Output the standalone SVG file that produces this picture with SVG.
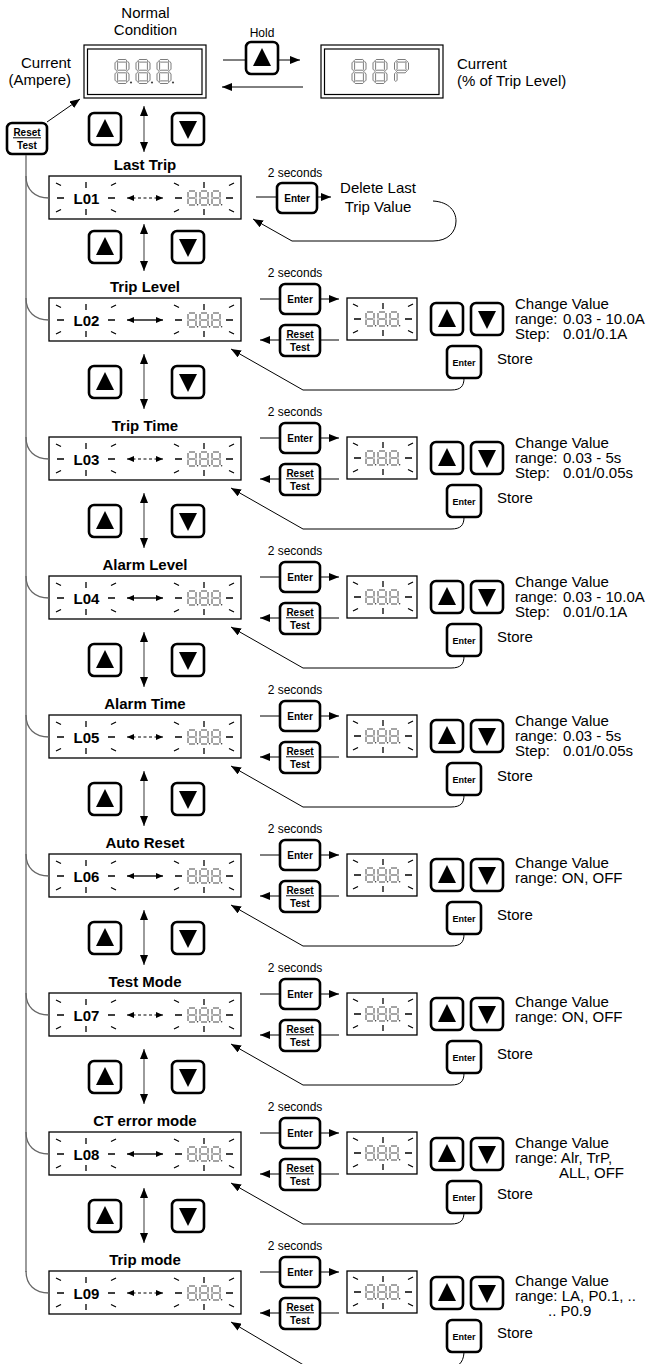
<svg xmlns="http://www.w3.org/2000/svg" width="651" height="1364" viewBox="0 0 651 1364">
<style>
text{font-family:"Liberation Sans",Arial,Helvetica,sans-serif;fill:#000}
.t15{font-size:15px}
.t12{font-size:12px}
.b15{font-size:15px;font-weight:bold}
.mid{text-anchor:middle}
.bt{font-size:10px;font-weight:bold;text-anchor:middle}
.bt9{font-size:9px;font-weight:bold;text-anchor:middle}
.btn{fill:#fff;stroke:#000;stroke-width:2.6}
.disp{fill:#fff;stroke:#000;stroke-width:1.3}
.tick{stroke:#000;stroke-width:1.3;fill:none}
.seg{fill:none;stroke:#444;stroke-width:0.7}
.segs{fill:none;stroke:#333;stroke-width:0.9}
.ln{fill:none;stroke:#000;stroke-width:1}
.bus{fill:none;stroke:#666;stroke-width:1.3}
.vline{fill:none;stroke:#666;stroke-width:1.3}
.dash{fill:none;stroke:#000;stroke-width:1;stroke-dasharray:3 2.5}
.sol{fill:none;stroke:#555;stroke-width:2}
</style>
<defs>
<marker id="ah" markerUnits="userSpaceOnUse" markerWidth="10" markerHeight="8" refX="10" refY="4" orient="auto"><path d="M0,0 L10,4 L0,8 z" fill="#000"/></marker>
<marker id="sa" markerUnits="userSpaceOnUse" markerWidth="7" markerHeight="6" refX="7" refY="3" orient="auto-start-reverse"><path d="M0,0 L7,3 L0,6 z" fill="#000"/></marker>
<marker id="va" markerUnits="userSpaceOnUse" markerWidth="10" markerHeight="8" refX="10" refY="4" orient="auto-start-reverse"><path d="M0,0 L10,4 L0,8 z" fill="#000"/></marker>
<g id="blink" class="tick">
<path d="M-29,0 H-22 M22,0 H29 M0,-16 V-10 M0,11 V17 M-30,-15 L-25,-12.5 M25,-12.5 L30,-15 M-30,14 L-25,11.5 M25,11.5 L30,14"/>
</g>
<g id="d8s">
<path class="segs" d="M1,0 H7 M8,1 V6.5 M8,7.5 V13 M1,14 H7 M0,7.5 V13 M0,1 V6.5 M1,7 H7"/>
<circle cx="9.6" cy="13.8" r="0.8" fill="#333"/>
</g>
<g id="d8b">
<polygon class="seg" points="2,1.3 3.3,0 10.7,0 12,1.3 10.7,2.6 3.3,2.6"/>
<polygon class="seg" points="2,12 3.3,10.7 10.7,10.7 12,12 10.7,13.3 3.3,13.3"/>
<polygon class="seg" points="2,22.7 3.3,21.4 10.7,21.4 12,22.7 10.7,24 3.3,24"/>
<polygon class="seg" points="1.3,2 2.6,3.3 2.6,9.7 1.3,11 0,9.7 0,3.3"/>
<polygon class="seg" points="1.3,13 2.6,14.3 2.6,20.7 1.3,22 0,20.7 0,14.3"/>
<polygon class="seg" points="12.7,2 14,3.3 14,9.7 12.7,11 11.4,9.7 11.4,3.3"/>
<polygon class="seg" points="12.7,13 14,14.3 14,20.7 12.7,22 11.4,20.7 11.4,14.3"/>
</g>
<g id="dPb">
<polygon class="seg" points="2,1.3 3.3,0 10.7,0 12,1.3 10.7,2.6 3.3,2.6"/>
<polygon class="seg" points="2,12 3.3,10.7 10.7,10.7 12,12 10.7,13.3 3.3,13.3"/>
<polygon class="seg" points="1.3,2 2.6,3.3 2.6,9.7 1.3,11 0,9.7 0,3.3"/>
<polygon class="seg" points="1.3,13 2.6,14.3 2.6,20.7 1.3,22 0,20.7 0,14.3"/>
<polygon class="seg" points="12.7,2 14,3.3 14,9.7 12.7,11 11.4,9.7 11.4,3.3"/>
</g>
<g id="s888"><use href="#d8s" x="0"/><use href="#d8s" x="12"/><use href="#d8s" x="24"/></g>
<g id="up"><rect x="0" y="0" width="32" height="32" rx="5" class="btn"/><path d="M7,24 H25 L16,6 z" fill="#000"/></g>
<g id="down"><rect x="0" y="0" width="32" height="32" rx="5" class="btn"/><path d="M7,8 H25 L16,26 z" fill="#000"/></g>
<g id="bEnter"><rect x="0" y="0" width="40" height="30" rx="5" class="btn"/><text x="20" y="19" class="bt">Enter</text></g>
<g id="bReset"><rect x="0" y="0" width="40" height="31" rx="5" class="btn"/><text x="20" y="12.5" class="bt">Reset</text><line x1="6" y1="14.8" x2="34" y2="14.8" stroke="#000" stroke-width="1"/><text x="20" y="26" class="bt">Test</text></g>
<g id="bStore"><rect x="0" y="0" width="34" height="32" rx="5" class="btn"/><text x="17" y="20" class="bt9">Enter</text></g>
<g id="smalldisp"><rect x="0" y="0" width="70" height="42" class="disp"/><use href="#blink" x="36" y="21"/><use href="#s888" x="19" y="14"/></g>
<g id="maindisp"><rect x="0" y="0" width="192" height="43" class="disp"/><use href="#blink" x="37" y="22"/><use href="#blink" x="155" y="22"/><use href="#s888" x="139" y="15"/></g>
</defs>

<!-- top nodes -->
<g id="normal-display">
<text x="145.5" y="18" class="t15 mid">Normal</text>
<text x="145.5" y="35" class="t15 mid">Condition</text>
<rect x="84" y="45" width="122" height="53" fill="#fff" stroke="#000" stroke-width="1.2"/>
<rect x="87.5" y="49" width="114.5" height="45.5" fill="none" stroke="#000" stroke-width="1.2"/>
<use href="#d8b" x="115" y="59.5"/><circle cx="131" cy="82.5" r="1.1" fill="#444"/>
<use href="#d8b" x="136" y="59.5"/><circle cx="152" cy="82.5" r="1.1" fill="#444"/>
<use href="#d8b" x="157" y="59.5"/><circle cx="173" cy="82.5" r="1.1" fill="#444"/>
<text x="71" y="68" class="t15" text-anchor="end">Current</text>
<text x="71" y="85" class="t15" text-anchor="end">(Ampere)</text>
</g>
<g id="hold-button">
<text x="262" y="37" class="t12 mid">Hold</text>
<use href="#up" x="246" y="42"/>
</g>
<g id="percent-display">
<rect x="321" y="45" width="122" height="53" fill="#fff" stroke="#000" stroke-width="1.2"/>
<rect x="324.5" y="49" width="114.5" height="45.5" fill="none" stroke="#000" stroke-width="1.2"/>
<use href="#d8b" x="352" y="59.5"/>
<use href="#d8b" x="373" y="59.5"/>
<use href="#dPb" x="394.5" y="59.5"/>
<text x="457" y="69" class="t15">Current</text>
<text x="457" y="86" class="t15">(% of Trip Level)</text>
</g>
<g id="reset-top"><use href="#bReset" x="7" y="123"/></g>
<g id="nav-top"><use href="#up" x="89" y="113"/><use href="#down" x="172" y="113"/></g>

<!-- L01 -->
<g id="row-L01" transform="translate(0,176)">
<text x="145" y="-6" class="b15 mid">Last Trip</text>
<use href="#maindisp" x="49" y="0"/>
<text x="86.5" y="28" class="b15 mid">L01</text>
<text x="295" y="1" class="t12 mid">2 seconds</text>
<use href="#bEnter" x="277" y="7"/>
<text x="378" y="17" class="t15 mid">Delete Last</text>
<text x="378" y="35.5" class="t15 mid">Trip Value</text>
<use href="#up" x="89" y="55"/><use href="#down" x="172" y="55"/>
</g>

<g id="row-L02" transform="translate(0,298)">
<text x="145" y="-6" class="b15 mid">Trip Level</text>
<use href="#maindisp" x="49" y="0"/>
<text x="86.5" y="27.5" class="b15 mid">L02</text>
<text x="295" y="-21.5" class="t12 mid">2 seconds</text>
<use href="#bEnter" x="280" y="-14"/><use href="#bReset" x="280" y="27"/>
<use href="#smalldisp" x="347" y="0"/>
<use href="#up" x="431" y="5"/><use href="#down" x="471" y="5"/>
<text x="515" y="11" class="t15">Change Value</text>
<text x="515" y="26" class="t15">range: <tspan x="563">0.03 - 10.0A</tspan></text>
<text x="515" y="41" class="t15">Step: <tspan x="563">0.01/0.1A</tspan></text>
<use href="#bStore" x="447" y="48"/><text x="497" y="66" class="t15">Store</text>
<use href="#up" x="89" y="68"/><use href="#down" x="172" y="68"/>
</g>

<g id="row-L03" transform="translate(0,437)">
<text x="145" y="-6" class="b15 mid">Trip Time</text>
<use href="#maindisp" x="49" y="0"/>
<text x="86.5" y="27.5" class="b15 mid">L03</text>
<text x="295" y="-21.5" class="t12 mid">2 seconds</text>
<use href="#bEnter" x="280" y="-14"/><use href="#bReset" x="280" y="27"/>
<use href="#smalldisp" x="347" y="0"/>
<use href="#up" x="431" y="5"/><use href="#down" x="471" y="5"/>
<text x="515" y="11" class="t15">Change Value</text>
<text x="515" y="26" class="t15">range: <tspan x="563">0.03 - 5s</tspan></text>
<text x="515" y="41" class="t15">Step: <tspan x="563">0.01/0.05s</tspan></text>
<use href="#bStore" x="447" y="48"/><text x="497" y="66" class="t15">Store</text>
<use href="#up" x="89" y="68"/><use href="#down" x="172" y="68"/>
</g>

<g id="row-L04" transform="translate(0,576)">
<text x="145" y="-6" class="b15 mid">Alarm Level</text>
<use href="#maindisp" x="49" y="0"/>
<text x="86.5" y="27.5" class="b15 mid">L04</text>
<text x="295" y="-21.5" class="t12 mid">2 seconds</text>
<use href="#bEnter" x="280" y="-14"/><use href="#bReset" x="280" y="27"/>
<use href="#smalldisp" x="347" y="0"/>
<use href="#up" x="431" y="5"/><use href="#down" x="471" y="5"/>
<text x="515" y="11" class="t15">Change Value</text>
<text x="515" y="26" class="t15">range: <tspan x="563">0.03 - 10.0A</tspan></text>
<text x="515" y="41" class="t15">Step: <tspan x="563">0.01/0.1A</tspan></text>
<use href="#bStore" x="447" y="48"/><text x="497" y="66" class="t15">Store</text>
<use href="#up" x="89" y="68"/><use href="#down" x="172" y="68"/>
</g>

<g id="row-L05" transform="translate(0,715)">
<text x="145" y="-6" class="b15 mid">Alarm Time</text>
<use href="#maindisp" x="49" y="0"/>
<text x="86.5" y="27.5" class="b15 mid">L05</text>
<text x="295" y="-21.5" class="t12 mid">2 seconds</text>
<use href="#bEnter" x="280" y="-14"/><use href="#bReset" x="280" y="27"/>
<use href="#smalldisp" x="347" y="0"/>
<use href="#up" x="431" y="5"/><use href="#down" x="471" y="5"/>
<text x="515" y="11" class="t15">Change Value</text>
<text x="515" y="26" class="t15">range: <tspan x="563">0.03 - 5s</tspan></text>
<text x="515" y="41" class="t15">Step: <tspan x="563">0.01/0.05s</tspan></text>
<use href="#bStore" x="447" y="48"/><text x="497" y="66" class="t15">Store</text>
<use href="#up" x="89" y="68"/><use href="#down" x="172" y="68"/>
</g>

<g id="row-L06" transform="translate(0,854)">
<text x="145" y="-6" class="b15 mid">Auto Reset</text>
<use href="#maindisp" x="49" y="0"/>
<text x="86.5" y="27.5" class="b15 mid">L06</text>
<text x="295" y="-21.5" class="t12 mid">2 seconds</text>
<use href="#bEnter" x="280" y="-14"/><use href="#bReset" x="280" y="27"/>
<use href="#smalldisp" x="347" y="0"/>
<use href="#up" x="431" y="5"/><use href="#down" x="471" y="5"/>
<text x="515" y="14" class="t15">Change Value</text>
<text x="515" y="29" class="t15">range: ON, OFF</text>
<use href="#bStore" x="447" y="48"/><text x="497" y="66" class="t15">Store</text>
<use href="#up" x="89" y="68"/><use href="#down" x="172" y="68"/>
</g>

<g id="row-L07" transform="translate(0,993)">
<text x="145" y="-6" class="b15 mid">Test Mode</text>
<use href="#maindisp" x="49" y="0"/>
<text x="86.5" y="27.5" class="b15 mid">L07</text>
<text x="295" y="-21.5" class="t12 mid">2 seconds</text>
<use href="#bEnter" x="280" y="-14"/><use href="#bReset" x="280" y="27"/>
<use href="#smalldisp" x="347" y="0"/>
<use href="#up" x="431" y="5"/><use href="#down" x="471" y="5"/>
<text x="515" y="14" class="t15">Change Value</text>
<text x="515" y="29" class="t15">range: ON, OFF</text>
<use href="#bStore" x="447" y="48"/><text x="497" y="66" class="t15">Store</text>
<use href="#up" x="89" y="68"/><use href="#down" x="172" y="68"/>
</g>

<g id="row-L08" transform="translate(0,1132)">
<text x="145" y="-6" class="b15 mid">CT error mode</text>
<use href="#maindisp" x="49" y="0"/>
<text x="86.5" y="27.5" class="b15 mid">L08</text>
<text x="295" y="-21.5" class="t12 mid">2 seconds</text>
<use href="#bEnter" x="280" y="-14"/><use href="#bReset" x="280" y="27"/>
<use href="#smalldisp" x="347" y="0"/>
<use href="#up" x="431" y="6"/><use href="#down" x="471" y="6"/>
<text x="515" y="16" class="t15">Change Value</text>
<text x="515" y="31" class="t15">range: Alr, TrP,</text>
<text x="559" y="46" class="t15">ALL, OFF</text>
<use href="#bStore" x="447" y="49"/><text x="497" y="67" class="t15">Store</text>
<use href="#up" x="89" y="68"/><use href="#down" x="172" y="68"/>
</g>

<g id="row-L09" transform="translate(0,1271)">
<text x="145" y="-6" class="b15 mid">Trip mode</text>
<use href="#maindisp" x="49" y="0"/>
<text x="86.5" y="27.5" class="b15 mid">L09</text>
<text x="295" y="-21.5" class="t12 mid">2 seconds</text>
<use href="#bEnter" x="280" y="-14"/><use href="#bReset" x="280" y="27"/>
<use href="#smalldisp" x="347" y="0"/>
<use href="#up" x="431" y="6"/><use href="#down" x="471" y="6"/>
<text x="515" y="15" class="t15">Change Value</text>
<text x="515" y="30" class="t15">range: LA, P0.1, ..</text>
<text x="548" y="45" class="t15">.. P0.9</text>
<use href="#bStore" x="447" y="49"/><text x="497" y="67" class="t15">Store</text>
</g>

<!-- connectors -->
<g id="connectors">
<line class="ln" x1="223" y1="60" x2="246" y2="60"/>
<line class="ln" x1="278" y1="60" x2="300" y2="60" marker-end="url(#ah)"/>
<line class="ln" x1="303" y1="87" x2="222" y2="87" marker-end="url(#ah)"/>
<line class="ln" x1="47" y1="122" x2="80" y2="99" marker-end="url(#ah)"/>
<line class="vline" x1="144" y1="106" x2="144" y2="152" marker-start="url(#va)" marker-end="url(#va)"/>
<line class="bus" x1="26" y1="155" x2="26" y2="1272"/>
<g id="c-L01" transform="translate(0,176)">
<path class="bus" d="M26,0 C26,14 35,22 49,22"/>
<line class="dash" x1="127" y1="22" x2="163" y2="22" marker-start="url(#sa)" marker-end="url(#sa)"/>
<line class="ln" x1="256" y1="21" x2="277" y2="21"/>
<line class="ln" x1="316" y1="21" x2="331" y2="21" marker-end="url(#ah)"/>
<path class="ln" d="M433,25 C450,26 456,36 456,45 C456,56 448,65 433,65 L292,65 L253,43" marker-end="url(#ah)"/>
<line class="vline" x1="144" y1="48" x2="144" y2="95" marker-start="url(#va)" marker-end="url(#va)"/>
</g>
<g id="c-L02" transform="translate(0,298)">
<path class="bus" d="M26,0 C26,14 35,22 49,22"/>
<line class="sol" x1="127" y1="22" x2="163" y2="22" marker-start="url(#sa)" marker-end="url(#sa)"/>
<line class="ln" x1="260" y1="1" x2="280" y2="1"/><line class="ln" x1="320" y1="1" x2="339" y2="1" marker-end="url(#ah)"/>
<line class="ln" x1="339" y1="42" x2="320" y2="42"/><line class="ln" x1="280" y1="42" x2="260" y2="42" marker-end="url(#ah)"/>
<path class="ln" d="M464,80 C464,88 461,92 451,92 L303,92 L231,51" marker-end="url(#ah)"/>
<line class="vline" x1="144" y1="56" x2="144" y2="111" marker-start="url(#va)" marker-end="url(#va)"/>
</g>
<g id="c-L03" transform="translate(0,437)">
<path class="bus" d="M26,0 C26,14 35,22 49,22"/>
<line class="dash" x1="127" y1="22" x2="163" y2="22" marker-start="url(#sa)" marker-end="url(#sa)"/>
<line class="ln" x1="260" y1="1" x2="280" y2="1"/><line class="ln" x1="320" y1="1" x2="339" y2="1" marker-end="url(#ah)"/>
<line class="ln" x1="339" y1="42" x2="320" y2="42"/><line class="ln" x1="280" y1="42" x2="260" y2="42" marker-end="url(#ah)"/>
<path class="ln" d="M464,80 C464,88 461,92 451,92 L303,92 L231,51" marker-end="url(#ah)"/>
<line class="vline" x1="144" y1="56" x2="144" y2="111" marker-start="url(#va)" marker-end="url(#va)"/>
</g>
<g id="c-L04" transform="translate(0,576)">
<path class="bus" d="M26,0 C26,14 35,22 49,22"/>
<line class="sol" x1="127" y1="22" x2="163" y2="22" marker-start="url(#sa)" marker-end="url(#sa)"/>
<line class="ln" x1="260" y1="1" x2="280" y2="1"/><line class="ln" x1="320" y1="1" x2="339" y2="1" marker-end="url(#ah)"/>
<line class="ln" x1="339" y1="42" x2="320" y2="42"/><line class="ln" x1="280" y1="42" x2="260" y2="42" marker-end="url(#ah)"/>
<path class="ln" d="M464,80 C464,88 461,92 451,92 L303,92 L231,51" marker-end="url(#ah)"/>
<line class="vline" x1="144" y1="56" x2="144" y2="111" marker-start="url(#va)" marker-end="url(#va)"/>
</g>
<g id="c-L05" transform="translate(0,715)">
<path class="bus" d="M26,0 C26,14 35,22 49,22"/>
<line class="dash" x1="127" y1="22" x2="163" y2="22" marker-start="url(#sa)" marker-end="url(#sa)"/>
<line class="ln" x1="260" y1="1" x2="280" y2="1"/><line class="ln" x1="320" y1="1" x2="339" y2="1" marker-end="url(#ah)"/>
<line class="ln" x1="339" y1="42" x2="320" y2="42"/><line class="ln" x1="280" y1="42" x2="260" y2="42" marker-end="url(#ah)"/>
<path class="ln" d="M464,80 C464,88 461,92 451,92 L303,92 L231,51" marker-end="url(#ah)"/>
<line class="vline" x1="144" y1="56" x2="144" y2="111" marker-start="url(#va)" marker-end="url(#va)"/>
</g>
<g id="c-L06" transform="translate(0,854)">
<path class="bus" d="M26,0 C26,14 35,22 49,22"/>
<line class="sol" x1="127" y1="22" x2="163" y2="22" marker-start="url(#sa)" marker-end="url(#sa)"/>
<line class="ln" x1="260" y1="1" x2="280" y2="1"/><line class="ln" x1="320" y1="1" x2="339" y2="1" marker-end="url(#ah)"/>
<line class="ln" x1="339" y1="42" x2="320" y2="42"/><line class="ln" x1="280" y1="42" x2="260" y2="42" marker-end="url(#ah)"/>
<path class="ln" d="M464,80 C464,88 461,92 451,92 L303,92 L231,51" marker-end="url(#ah)"/>
<line class="vline" x1="144" y1="56" x2="144" y2="111" marker-start="url(#va)" marker-end="url(#va)"/>
</g>
<g id="c-L07" transform="translate(0,993)">
<path class="bus" d="M26,0 C26,14 35,22 49,22"/>
<line class="dash" x1="127" y1="22" x2="163" y2="22" marker-start="url(#sa)" marker-end="url(#sa)"/>
<line class="ln" x1="260" y1="1" x2="280" y2="1"/><line class="ln" x1="320" y1="1" x2="339" y2="1" marker-end="url(#ah)"/>
<line class="ln" x1="339" y1="42" x2="320" y2="42"/><line class="ln" x1="280" y1="42" x2="260" y2="42" marker-end="url(#ah)"/>
<path class="ln" d="M464,80 C464,88 461,92 451,92 L303,92 L231,51" marker-end="url(#ah)"/>
<line class="vline" x1="144" y1="56" x2="144" y2="111" marker-start="url(#va)" marker-end="url(#va)"/>
</g>
<g id="c-L08" transform="translate(0,1132)">
<path class="bus" d="M26,0 C26,14 35,22 49,22"/>
<line class="sol" x1="127" y1="22" x2="163" y2="22" marker-start="url(#sa)" marker-end="url(#sa)"/>
<line class="ln" x1="260" y1="1" x2="280" y2="1"/><line class="ln" x1="320" y1="1" x2="339" y2="1" marker-end="url(#ah)"/>
<line class="ln" x1="339" y1="42" x2="320" y2="42"/><line class="ln" x1="280" y1="42" x2="260" y2="42" marker-end="url(#ah)"/>
<path class="ln" d="M464,80 C464,88 461,92 451,92 L303,92 L231,51" marker-end="url(#ah)"/>
<line class="vline" x1="144" y1="56" x2="144" y2="111" marker-start="url(#va)" marker-end="url(#va)"/>
</g>
<g id="c-L09" transform="translate(0,1271)">
<path class="bus" d="M26,0 C26,14 35,22 49,22"/>
<line class="dash" x1="127" y1="22" x2="163" y2="22" marker-start="url(#sa)" marker-end="url(#sa)"/>
<line class="ln" x1="260" y1="1" x2="280" y2="1"/><line class="ln" x1="320" y1="1" x2="339" y2="1" marker-end="url(#ah)"/>
<line class="ln" x1="339" y1="42" x2="320" y2="42"/><line class="ln" x1="280" y1="42" x2="260" y2="42" marker-end="url(#ah)"/>
<path class="ln" d="M464,80 C464,88 461,96 451,96 L307,96 L231,51" marker-end="url(#ah)"/>
</g>
</g>
</svg>
